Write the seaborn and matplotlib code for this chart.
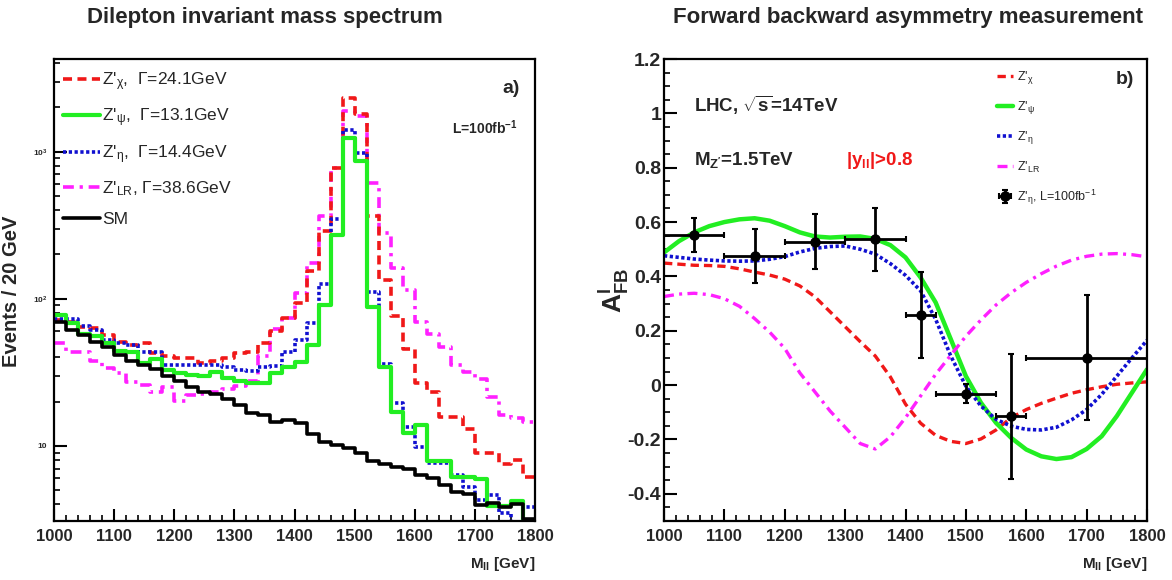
import numpy as np
import pandas as pd
import matplotlib
matplotlib.use('Agg')
import matplotlib.pyplot as plt
from matplotlib import font_manager
from matplotlib.ticker import MultipleLocator, FixedLocator, NullFormatter, FuncFormatter, LogLocator
import seaborn as sns

# ---- panel a) : dilepton mass spectrum, 20 GeV bins ----
bin_low = list(range(1000, 1800, 20))
sm = [69, 61.4, 56.9, 51.1, 46.8, 41.5, 38, 35.4, 33.2, 29.9,
      27.7, 25.2, 23.3, 22.5, 20.7, 19.0, 16.8, 16.2, 14.6, 14.9,
      14.2, 12.1, 10.6, 10.1, 9.6, 8.9, 7.9, 7.5, 7.2, 7.0,
      6.3, 6.0, 5.4, 4.86, 4.7, 3.94, 4.1, 3.84, 4.05, 3.2]
z_psi = [77.7, 68, 57.7, 55.8, 50.3, 44.4, 43.1, 36.4, 38.8, 32.8,
         31.4, 30.3, 29.8, 31.9, 28.8, 27.7, 26.9, 26.9, 31.1, 34.6,
         37.4, 48.5, 90, 273, 1245, 863, 88, 34.6, 17.1, 12.3,
         13.8, 7.9, 7.9, 6.1, 6.1, 5.9, 3.9, 3.9, 4.2, 3.1]
z_eta = [72.8, 72.8, 65.5, 61.4, 52.5, 49.8, 48.5, 43.7, 43.7, 35.4,
         35.4, 35.4, 35.4, 35.4, 34.2, 32.8, 32.5, 34.6, 34.8, 43.7,
         52.5, 68, 126, 349, 1400, 975, 111, 36, 19.5, 13.5,
         9.85, 7.6, 7.6, 6.3, 5.26, 4.27, 4.6, 3.5, 3.0, 3.85]
z_chi = [72, 70, 64.5, 63, 56.9, 51, 48.5, 49.9, 42.7, 40.5,
         39.4, 39.4, 36.8, 37.5, 39.4, 43, 43.7, 50.3, 60.8, 74,
         94, 154, 288, 778, 2335, 1795, 368, 135, 76, 45.4,
         26.9, 23.3, 15.6, 15.6, 13.1, 8.9, 8.9, 7.5, 8.0, 6.1]
z_lr = [50.3, 43.7, 43.7, 38, 33.7, 31.4, 27.3, 25.9, 23.3, 25,
        20.3, 22.3, 22.6, 23.3, 24.4, 25.5, 27.7, 41, 62, 74,
        110, 175, 366, 780, 1890, 1750, 615, 280, 162, 114,
        70, 58, 47, 35.5, 31.9, 28.3, 21.6, 16.2, 15.4, 14.6]

# ---- panel b) : forward backward asymmetry ----
m_curve = list(range(1000, 1801, 25))
afb_chi = [0.449, 0.445, 0.441, 0.44, 0.437, 0.428, 0.416, 0.405, 0.39, 0.365,
           0.325, 0.27, 0.215, 0.16, 0.107, 0.03, -0.07, -0.14, -0.185, -0.207,
           -0.215, -0.198, -0.165, -0.12, -0.09, -0.067, -0.048, -0.030, -0.017,
           -0.006, 0.003, 0.008, 0.012]
afb_psi = [0.488, 0.53, 0.562, 0.585, 0.6, 0.61, 0.614, 0.605, 0.585, 0.562,
           0.547, 0.543, 0.546, 0.547, 0.538, 0.515, 0.47, 0.396, 0.304, 0.169,
           0.033, -0.065, -0.139, -0.194, -0.237, -0.262, -0.272, -0.265, -0.235,
           -0.188, -0.114, -0.028, 0.058]
afb_eta = [0.476, 0.47, 0.464, 0.46, 0.457, 0.456, 0.457, 0.463, 0.473, 0.49,
           0.503, 0.51, 0.512, 0.5, 0.482, 0.447, 0.404, 0.347, 0.242, 0.107,
           -0.004, -0.077, -0.126, -0.151, -0.163, -0.165, -0.155, -0.128, -0.09,
           -0.034, 0.033, 0.1, 0.165]
afb_lr = [0.326, 0.335, 0.338, 0.333, 0.318, 0.29, 0.245, 0.195, 0.135, 0.045,
          -0.025, -0.095, -0.155, -0.215, -0.235, -0.19, -0.12, -0.04, 0.04, 0.11,
          0.18, 0.24, 0.295, 0.34, 0.378, 0.41, 0.438, 0.46, 0.474, 0.482,
          0.484, 0.48, 0.472]

pt_m = [1050, 1150, 1250, 1350, 1425, 1500, 1575, 1700]
pt_afb = [0.552, 0.475, 0.528, 0.536, 0.258, -0.031, -0.114, 0.101]
pt_xerr = [50, 50, 50, 50, 25, 50, 25, 100]
pt_yerr = [0.063, 0.10, 0.10, 0.115, 0.16, 0.035, 0.23, 0.23]

# ---- style ----
sns.set_style('ticks')
names = {f.name for f in font_manager.fontManager.ttflist}
if 'Liberation Sans Narrow' in names:
    fam, k = 'Liberation Sans Narrow', 1.15
else:
    fam, k = 'Liberation Sans', 1.0
plt.rcParams['font.family'] = [fam, 'DejaVu Sans']
plt.rcParams['font.weight'] = 'bold'
plt.rcParams['mathtext.fontset'] = 'custom'
plt.rcParams['mathtext.rm'] = fam
plt.rcParams['mathtext.it'] = fam + ':italic'
plt.rcParams['mathtext.bf'] = fam + ':bold'
plt.rcParams['mathtext.default'] = 'regular'

RED, GREEN, BLUE, MAG = '#f01818', '#22ee22', '#1010d0', '#ff20ff'
DASH = (0, (2.5, 1.5))
DOT = (0, (0.9, 0.7))
DASHDOT = (0, (3, 1.6, 0.9, 1.6))

fig = plt.figure(figsize=(11.72, 5.8), dpi=100)
ax1 = fig.add_axes([54 / 1172, 1 - 521 / 580, 481 / 1172, 462 / 580])
ax2 = fig.add_axes([664 / 1172, 1 - 521 / 580, 483 / 1172, 462 / 580])

edges = bin_low + [1800]
centers = [b + 10 for b in bin_low]
spectra = [
    (z_lr, MAG, DASHDOT, 2.6),
    (z_chi, RED, DASH, 2.6),
    (z_eta, BLUE, DOT, 2.6),
    (z_psi, GREEN, '-', 3.0),
    (sm, 'black', '-', 2.6),
]
handles = {}
for vals, col, ls, lw in spectra:
    sns.histplot(x=centers, weights=vals, bins=edges, element='step', fill=False,
                 color=col, linestyle=ls, linewidth=lw, ax=ax1)
    handles[col] = ax1.lines[-1]

ax1.set_yscale('log')
ax1.set_xlim(1000, 1800)
ax1.set_ylim(3.08, 4270)
ax1.yaxis.set_major_locator(FixedLocator([10, 100, 1000]))
ax1.yaxis.set_major_formatter(FuncFormatter(
    lambda v, p: {10: '10', 100: '$10^{2}$', 1000: '$10^{3}$'}.get(int(round(v)), '')))
ax1.yaxis.set_minor_locator(LogLocator(base=10, subs=np.arange(2, 10)))
ax1.yaxis.set_minor_formatter(NullFormatter())
ax1.xaxis.set_major_locator(MultipleLocator(100))
ax1.xaxis.set_minor_locator(MultipleLocator(20))
ax1.tick_params(axis='y', which='major', labelsize=6 * k, pad=5)
ax1.set_ylabel('Events / 20 GeV', fontsize=14.5 * k, fontweight='bold')
ax1.yaxis.set_label_coords(-0.069, 0.498)

leg_labels = ["Z'$_{χ}$,  Γ=24.1GeV", "Z'$_{ψ}$,  Γ=13.1GeV", "Z'$_{η}$,  Γ=14.4GeV",
              "Z'$_{LR}$, Γ=38.6GeV", 'SM']
leg_handles = [handles[RED], handles[GREEN], handles[BLUE], handles[MAG], handles['black']]
ax1.legend(leg_handles, leg_labels, loc='upper left', bbox_to_anchor=(0.019, 0.976),
           frameon=False, borderpad=0, borderaxespad=0, handlelength=2.1,
           handletextpad=0.15, labelspacing=0.8,
           prop={'family': fam, 'weight': 'normal', 'size': 12.5 * k})
ax1.text(0.969, 0.937, 'a)', transform=ax1.transAxes, ha='right', va='center',
         fontsize=14 * k, fontweight='bold')
ax1.text(0.827, 0.851, 'L=100fb$^{-1}$', transform=ax1.transAxes, ha='left', va='center',
         fontsize=10 * k, fontweight='bold')

# ---- panel b) ----
curves = [
    (afb_chi, RED, DASH, 2.4, "Z'$_{χ}$"),
    (afb_psi, GREEN, '-', 3.2, "Z'$_{ψ}$"),
    (afb_eta, BLUE, DOT, 2.6, "Z'$_{η}$"),
    (afb_lr, MAG, DASHDOT, 2.4, "Z'$_{LR}$"),
]
curve_lines = []
for vals, col, ls, lw, lab in curves:
    sns.lineplot(x=m_curve, y=vals, color=col, linestyle=ls, linewidth=lw,
                 sort=False, estimator=None, ax=ax2)
    curve_lines.append(ax2.lines[-1])

eb = ax2.errorbar(pt_m, pt_afb, xerr=pt_xerr, yerr=pt_yerr, fmt='o', color='black',
                  ms=6.5, elinewidth=2, capsize=2.5, capthick=1.5)

ax2.set_xlim(1000, 1800)
ax2.set_ylim(-0.5, 1.2)
ax2.xaxis.set_major_locator(MultipleLocator(100))
ax2.xaxis.set_minor_locator(MultipleLocator(20))
ax2.yaxis.set_major_locator(FixedLocator([-0.4, -0.2, 0, 0.2, 0.4, 0.6, 0.8, 1.0, 1.2]))
ax2.yaxis.set_minor_locator(MultipleLocator(0.05))
ax2.yaxis.set_major_formatter(FuncFormatter(lambda v, p: '%g' % round(v, 2)))
ax2.tick_params(axis='y', which='major', labelsize=14 * k, pad=2)
ax2.set_ylabel('A$^{l}_{FB}$', fontsize=19 * k, fontweight='bold')
ax2.yaxis.set_label_coords(-0.068, 0.5)

ax2.legend(curve_lines + [eb],
           [c[4] for c in curves] + ["Z'$_{η}$, L=100fb$^{-1}$"],
           loc='upper left', bbox_to_anchor=(0.689, 0.978), frameon=False,
           borderpad=0, borderaxespad=0, handlelength=1.3, handletextpad=0.3,
           labelspacing=1.05, prop={'family': fam, 'weight': 'normal', 'size': 9 * k})
ax2.text(0.062, 0.9, 'LHC, $\\sqrt{s}$=14TeV', transform=ax2.transAxes, va='center',
         fontsize=13.5 * k, fontweight='bold')
ax2.text(0.062, 0.781, "M$_{Z'}$=1.5TeV", transform=ax2.transAxes, va='center',
         fontsize=13.5 * k, fontweight='bold')
ax2.text(0.377, 0.781, '|y$_{ll}$|>0.8', transform=ax2.transAxes, va='center',
         fontsize=13.5 * k, fontweight='bold', color=RED)
ax2.text(0.973, 0.955, 'b)', transform=ax2.transAxes, ha='right', va='center',
         fontsize=14 * k, fontweight='bold')

for ax in (ax1, ax2):
    ax.set_xlabel('M$_{ll}$ [GeV]', fontsize=11 * k, fontweight='bold', loc='right')
    ax.xaxis.set_label_coords(1.0, -0.074)
    ax.tick_params(axis='x', which='major', labelsize=12 * k, pad=6)
    ax.tick_params(which='both', direction='in', top=False, right=False, color='black')
    ax.tick_params(which='major', length=9, width=1.5)
    ax.tick_params(which='minor', length=4.5, width=1.2)
    for s in ax.spines.values():
        s.set_linewidth(1.6)
        s.set_color('black')
    ax.set_facecolor('white')

fig.text(0.226, 0.969, 'Dilepton invariant mass spectrum', ha='center', va='center',
         fontsize=16 * k, fontweight='bold')
fig.text(0.775, 0.969, 'Forward backward asymmetry measurement', ha='center', va='center',
         fontsize=16 * k, fontweight='bold')

fig.savefig('out.png', dpi=100, facecolor='white')
